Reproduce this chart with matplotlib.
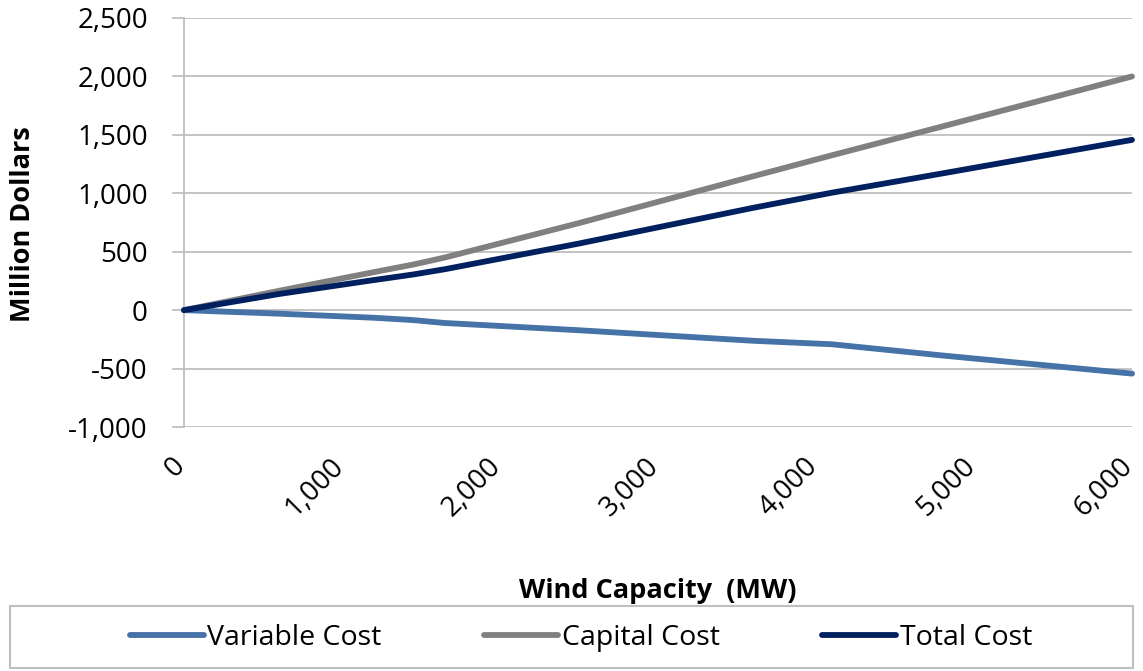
import matplotlib
matplotlib.use("Agg")
import matplotlib.pyplot as plt
import matplotlib.transforms as mtransforms
from matplotlib.patches import Rectangle
from matplotlib.ticker import FuncFormatter

# ---- data ----
wind_mw = [0, 600, 1200, 1450, 1650, 2500, 3600, 4100, 4800, 6000]
variable_cost = [0, -30, -65, -85, -110, -172, -262, -292, -388, -543]
capital_cost = [0, 165, 325, 390, 450, 745, 1145, 1325, 1572, 2000]
total_cost = [0, 138, 257, 305, 350, 570, 875, 1005, 1170, 1457]
series_names = ["Variable Cost", "Capital Cost", "Total Cost"]
x_ticks = [0, 1000, 2000, 3000, 4000, 5000, 6000]
y_ticks = [-1000, -500, 0, 500, 1000, 1500, 2000, 2500]

colors = ["#4572A7", "#808080", "#002060"]
grid_c = "#BFBFBF"
FONT = "Open Sans"
plt.rcParams["font.family"] = [FONT, "DejaVu Sans"]

W, H = 1143, 671
fig = plt.figure(figsize=(W / 100, H / 100), dpi=100)
ax = fig.add_axes([184 / W, 1 - 427 / H, (1132 - 184) / W, (427 - 18) / H])

for ys, c, name in zip([variable_cost, capital_cost, total_cost], colors, series_names):
    ax.plot(wind_mw, ys, color=c, lw=4.2, solid_capstyle="round",
            solid_joinstyle="round", label=name, zorder=3, clip_on=False)

ax.set_xlim(0, 6000)
ax.set_ylim(-1000, 2500)
ax.set_xticks(x_ticks)
ax.set_yticks(y_ticks)
fmt = FuncFormatter(lambda v, p: f"{int(v):,}")
ax.xaxis.set_major_formatter(fmt)
ax.yaxis.set_major_formatter(fmt)

ax.grid(axis="y", color=grid_c, lw=1.3, zorder=0)
ax.set_axisbelow(True)
for s in ["top", "right", "bottom"]:
    ax.spines[s].set_visible(False)
ax.spines["left"].set_color(grid_c)
ax.spines["left"].set_linewidth(1.3)

ax.tick_params(axis="y", length=9, width=1.3, color=grid_c, pad=17,
               labelsize=20, labelcolor="black")
ax.tick_params(axis="x", length=0, pad=18, labelsize=20, labelcolor="black")
offset = mtransforms.ScaledTranslation(7 / 100, 0, fig.dpi_scale_trans)
for lab in ax.get_xticklabels():
    lab.set_rotation(45)
    lab.set_ha("right")
    lab.set_va("top")
    lab.set_transform(lab.get_transform() + offset)

fig.text(23 / W, 1 - 224 / H, "Million Dollars", rotation=90, ha="center",
         va="center", fontsize=19.5, fontweight="bold")
fig.text(658 / W, 1 - 591 / H, "Wind Capacity  (MW)", ha="center",
         va="center", fontsize=19.5, fontweight="bold")

# legend box
fig.patches.append(Rectangle((10 / W, 1 - 668 / H), (1133 - 10) / W, (668 - 606) / H,
                             transform=fig.transFigure, fill=False,
                             edgecolor=grid_c, lw=1.5))
handles, labels = ax.get_legend_handles_labels()
fig.legend(handles, labels, loc="center", bbox_to_anchor=(581 / W, 1 - 638 / H),
           ncol=3, frameon=False, fontsize=20.5, handlelength=2.6,
           handletextpad=0.12, columnspacing=3.6)

fig.savefig("out.png", dpi=100)
